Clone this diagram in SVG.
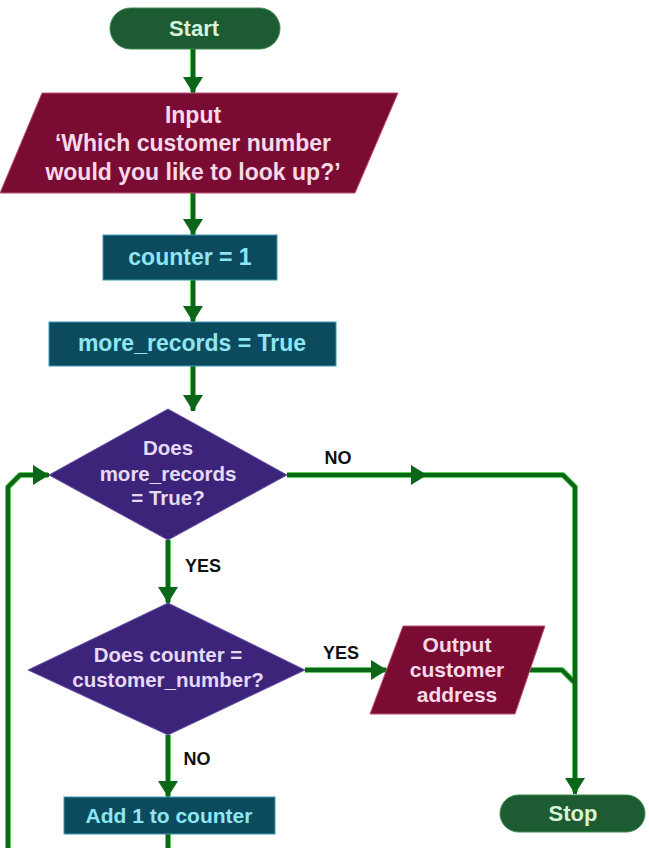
<svg xmlns="http://www.w3.org/2000/svg" width="649" height="848" viewBox="0 0 649 848">
<style>
  text { font-family: "Liberation Sans", Arial, sans-serif; font-weight: bold; text-anchor: middle; }
  .term { fill: #1d5b32; stroke: #3c8a4e; stroke-width: 1; }
  .term-t { fill: #d8f2d8; font-size: 22px; }
  .io { fill: #7a0c33; stroke: #c0507a; stroke-width: 1; }
  .io-t { fill: #f8d9ea; }
  .proc { fill: #0c4a5e; stroke: #3a9ab0; stroke-width: 1; }
  .proc-t { fill: #8fe6f2; }
  .dec { fill: #3b2479; stroke: #6a55a8; stroke-width: 1; }
  .dec-t { fill: #e6d9f5; font-size: 20.5px; }
  .lbl { fill: #111; font-size: 18px; }
  .halo { fill: none; stroke: #5fcf5f; stroke-width: 6; stroke-linejoin: round; }
  .wire { fill: none; stroke: #0b6618; stroke-width: 4; stroke-linejoin: round; }
</style>
<defs>
  <marker id="ah" markerUnits="userSpaceOnUse" markerWidth="18" markerHeight="22" refX="16" refY="10" orient="auto">
    <path d="M0,0 L16,10 L0,20 z" fill="#0b6618"/>
  </marker>
</defs>

<g id="connectors">
  <g class="halo-group">
    <path class="halo" d="M193,49 V92"/>
    <path class="halo" d="M193,193 V234"/>
    <path class="halo" d="M193,280 V321"/>
    <path class="halo" d="M193,366 V410"/>
    <path class="halo" d="M287,475 H563 L575,487 V792"/>
    <path class="halo" d="M530,670 H562 L575,683"/>
    <path class="halo" d="M168,540 V602"/>
    <path class="halo" d="M305,670 H386"/>
    <path class="halo" d="M168,735 V796"/>
    <path class="halo" d="M168,834 V848"/>
    <path class="halo" d="M8,848 V487 L20,475 H48"/>
  </g>
  <path class="wire" d="M193,49 V93" marker-end="url(#ah)"/>
  <path class="wire" d="M193,193 V235" marker-end="url(#ah)"/>
  <path class="wire" d="M193,280 V322" marker-end="url(#ah)"/>
  <path class="wire" d="M193,366 V411" marker-end="url(#ah)"/>
  <path class="wire" d="M287,475 H427" marker-end="url(#ah)"/>
  <path class="wire" d="M427,475 H563 L575,487 V794" marker-end="url(#ah)"/>
  <path class="wire" d="M530,670 H562 L575,683"/>
  <path class="wire" d="M168,540 V603" marker-end="url(#ah)"/>
  <path class="wire" d="M305,670 H387" marker-end="url(#ah)"/>
  <path class="wire" d="M168,735 V797" marker-end="url(#ah)"/>
  <path class="wire" d="M168,834 V848"/>
  <path class="wire" d="M8,848 V487 L20,475 H49" marker-end="url(#ah)"/>
  <text class="lbl" x="338" y="464">NO</text>
  <text class="lbl" x="203" y="572">YES</text>
  <text class="lbl" x="341" y="659">YES</text>
  <text class="lbl" x="197" y="765">NO</text>
</g>

<g id="start">
  <rect class="term" x="110" y="8" width="170" height="41" rx="20.5"/>
  <text class="term-t" x="194" y="36">Start</text>
</g>

<g id="input">
  <polygon class="io" points="42,93 398,93 355,193 0,193"/>
  <text class="io-t" font-size="23" x="193" y="123">Input</text>
  <text class="io-t" font-size="23" x="193" y="151">‘Which customer number</text>
  <text class="io-t" font-size="23" x="193" y="180">would you like to look up?’</text>
</g>

<g id="counter-init">
  <rect class="proc" x="103" y="235" width="174" height="45"/>
  <text class="proc-t" font-size="23" x="190" y="265">counter = 1</text>
</g>

<g id="more-records-init">
  <rect class="proc" x="49" y="322" width="287" height="44"/>
  <text class="proc-t" font-size="23" x="192" y="351">more_records = True</text>
</g>

<g id="decision-more-records">
  <polygon class="dec" points="168,409 287,475 168,540 49,475"/>
  <text class="dec-t" x="168" y="455">Does</text>
  <text class="dec-t" x="168" y="481">more_records</text>
  <text class="dec-t" x="168" y="505">= True?</text>
</g>

<g id="decision-counter">
  <polygon class="dec" points="168,603 305,670 168,735 28,670"/>
  <text class="dec-t" x="168" y="662">Does counter =</text>
  <text class="dec-t" x="168" y="687">customer_number?</text>
</g>

<g id="output">
  <polygon class="io" points="403,626 545,626 515,714 370,714"/>
  <text class="io-t" font-size="21" x="457" y="652">Output</text>
  <text class="io-t" font-size="21" x="457" y="677">customer</text>
  <text class="io-t" font-size="21" x="457" y="702">address</text>
</g>

<g id="add-counter">
  <rect class="proc" x="64" y="797" width="211" height="37"/>
  <text class="proc-t" font-size="21" x="169" y="823">Add 1 to counter</text>
</g>

<g id="stop">
  <rect class="term" x="500" y="795" width="145" height="37" rx="18.5"/>
  <text class="term-t" x="573" y="821" font-size="21">Stop</text>
</g>
</svg>
